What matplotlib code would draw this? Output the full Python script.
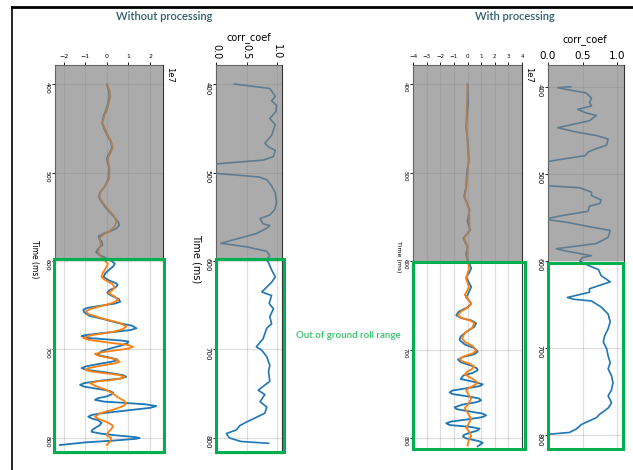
import numpy as np
import matplotlib
matplotlib.use("Agg")
import matplotlib.pyplot as plt
from matplotlib.patches import Rectangle
from matplotlib.lines import Line2D

# ---------------- data ----------------
# Trace without processing (amplitude in units of 1e7), time in ms
t_raw_blue = [400, 407, 414, 421, 428, 436, 444, 451, 458, 465, 472, 478, 484, 490, 495, 506, 511, 516, 522, 527,
              533, 540, 546, 552, 557, 560, 563, 566, 569, 572, 575, 578, 582, 586, 590, 593, 596, 600, 603, 606,
              610, 614, 618, 622, 625, 627, 630, 633, 636, 639, 643, 646, 648, 651, 653, 655, 658, 662, 666, 670,
              673, 676, 678, 680, 682, 684, 685, 687, 688, 690, 691, 693, 696, 699, 702, 706, 709, 711, 712, 714,
              716, 719, 721, 723, 726, 729, 731, 733, 735, 738, 740, 742, 745, 747, 749, 751, 753, 755, 757, 759,
              760, 762, 764, 766, 769, 772, 774, 776, 778, 780, 783, 786, 788, 791, 793, 795, 797, 799, 800, 801,
              803, 805, 808]
v_raw_blue = [0.00, 0.08, 0.12, 0.06, -0.02, -0.15, -0.22, -0.12, 0.02, 0.18, 0.24, 0.12, 0.00, 0.05, 0.10, 0.08, 0.00, -0.10, -0.30, -0.38,
              -0.25, -0.05, 0.18, 0.40, 0.55, 0.57, 0.45, 0.20, -0.15, -0.38, -0.35, -0.24, -0.20, -0.40, -0.50, -0.35, -0.10, 0.22, 0.37, 0.30,
              0.10, -0.08, -0.15, 0.10, 0.42, 0.50, 0.40, 0.12, 0.02, 0.20, 0.55, 0.62, 0.40, -0.40, -0.90, -1.09, -1.05, -0.80, -0.10, 0.50,
              1.15, 1.37, 1.10, 0.40, -0.40, -1.05, -1.17, -0.90, -0.30, 0.70, 1.00, 0.95, 0.60, 0.15, -0.25, -0.45, 0.10, 0.45, 0.50, 0.20,
              -0.30, -0.95, -1.17, -0.95, 0.00, 0.75, 0.90, 0.60, -0.20, -1.05, -1.24, -1.05, -0.30, 0.15, 0.30, 0.20, 0.00, -0.40, -0.55, -0.10,
              0.60, 1.80, 2.29, 2.00, 0.90, -0.20, -0.70, -0.86, -0.70, -0.40, -0.24, -0.35, -0.50, -0.68, -0.71, -0.30, 0.40, 1.30, 1.52, 1.35,
              0.30, -1.00, -2.17]
t_raw_orange = [400, 407, 414, 421, 428, 436, 444, 451, 458, 465, 472, 478, 484, 490, 495, 506, 511, 516, 522, 527,
                533, 540, 548, 556, 561, 566, 570, 574, 578, 582, 586, 590, 596, 603, 606, 610, 614, 618, 622, 626,
                630, 633, 636, 640, 644, 647, 650, 654, 657, 660, 665, 670, 674, 677, 680, 684, 687, 689, 692, 695,
                697, 699, 701, 703, 705, 707, 711, 714, 716, 718, 721, 723, 725, 727, 729, 731, 733, 735, 736, 738,
                741, 746, 750, 754, 758, 761, 764, 768, 772, 776, 779, 782, 785, 787, 790, 794, 797, 800, 804, 808]
v_raw_orange = [0.00, 0.12, 0.16, 0.10, 0.02, -0.12, -0.20, -0.08, 0.05, 0.20, 0.28, 0.16, 0.05, 0.08, 0.12, 0.12, 0.02, -0.10, -0.28, -0.35,
                -0.22, 0.00, 0.30, 0.45, 0.35, 0.15, -0.15, -0.35, -0.30, -0.28, -0.36, -0.40, -0.25, 0.05, 0.00, -0.10, -0.20, -0.25, -0.05, 0.25,
                0.37, 0.25, 0.08, 0.35, 0.52, 0.30, -0.10, -0.75, -0.97, -0.85, -0.20, 0.60, 0.90, 0.75, 0.30, -0.75, -1.09, -0.85, 0.00, 1.00,
                1.21, 1.00, 0.40, -0.20, -0.55, -0.40, 0.40, 0.60, 0.30, -0.20, -0.85, -1.00, -0.70, 0.00, 0.60, 0.83, 0.60, 0.10, -0.45, -0.78,
                -0.55, 0.00, 0.30, 0.50, 0.80, 0.90, 0.75, 0.30, -0.30, -0.55, -0.35, 0.00, 0.22, 0.29, 0.20, 0.05, 0.00, 0.20, 0.15, 0.00]

# corr_coef without processing
t_cc_raw = [400, 405, 408, 414, 419, 424, 431, 439, 446, 458, 467, 471, 475, 482, 486, 490, 496, 501, 505, 508,
            515, 523, 534, 542, 548, 552, 558, 560, 563, 569, 580, 584, 589, 594, 599, 602, 610, 618, 624, 635,
            639, 648, 654, 663, 671, 676, 688, 692, 697, 701, 708, 718, 725, 736, 746, 751, 759, 765, 772, 782,
            786, 791, 795, 800, 804, 806]
v_cc_raw = [0.30, 0.88, 0.91, 0.97, 0.91, 0.99, 0.98, 0.88, 0.97, 0.91, 0.80, 0.86, 0.97, 0.94, 0.77, 0.05, -0.40, 0.00, 0.70, 0.83,
            0.91, 0.97, 0.99, 0.96, 0.88, 0.72, 0.77, 0.88, 0.83, 0.66, 0.08, 0.50, 0.83, 0.88, 0.83, 0.86, 0.91, 0.97, 0.91, 0.75,
            0.91, 0.87, 0.94, 0.88, 0.91, 0.83, 0.77, 0.72, 0.66, 0.75, 0.83, 0.88, 0.86, 0.88, 0.69, 0.80, 0.72, 0.83, 0.80, 0.50,
            0.39, 0.33, 0.17, 0.22, 0.41, 0.86]

# Trace with processing (units of 1e7)
t_pr_blue = [400, 420, 448, 470, 486, 500, 516, 527, 542, 555, 565, 574, 584, 592, 599, 603, 608, 613, 618, 624,
             629, 635, 641, 645, 648, 652, 657, 661, 664, 667, 670, 674, 680, 685, 689, 694, 698, 702, 705, 708,
             711, 714, 718, 721, 723, 726, 729, 733, 736, 739, 741, 744, 746, 748, 750, 753, 755, 757, 759, 762,
             765, 767, 770, 772, 774, 776, 779, 781, 783, 785, 787, 789, 791, 794, 796, 798, 800, 803, 805, 809]
v_pr_blue = [0.00, 0.05, -0.10, 0.05, 0.10, -0.05, -0.10, -0.25, 0.15, 0.00, 0.20, -0.30, 0.00, -0.10, 0.00, 0.15, 0.27, 0.12, -0.10, 0.10,
             0.27, 0.10, -0.10, 0.15, 0.27, 0.00, -0.65, -0.83, -0.50, 0.30, 0.63, 0.50, -0.10, -0.50, -0.58, -0.20, 0.50, 0.75, 0.50, -0.30,
             -0.70, -0.50, 0.30, 0.70, 0.75, 0.40, -0.30, -0.50, 0.40, 1.12, 0.90, -0.30, -1.10, -1.31, -1.10, 0.20, 0.85, 1.00, 0.70, -0.40,
             -0.95, -0.80, 0.30, 1.10, 1.36, 1.10, -0.20, -1.20, -1.56, -1.30, 0.20, 0.88, 0.75, 0.10, -0.25, -0.34, -0.10, 0.80, 1.12, 0.75]
t_pr_orange = [400, 448, 486, 516, 527, 542, 565, 574, 584, 599, 604, 609, 614, 620, 625, 629, 634, 638, 643, 648,
               652, 657, 661, 664, 667, 670, 675, 681, 687, 691, 696, 701, 704, 707, 710, 713, 716, 719, 722, 725,
               728, 732, 737, 740, 743, 746, 750, 755, 760, 766, 772, 778, 783, 788, 792, 797, 802, 808]
v_pr_orange = [0.00, -0.08, 0.08, -0.08, -0.20, 0.12, 0.15, -0.25, 0.00, 0.00, 0.08, 0.10, 0.00, -0.10, 0.02, 0.10, -0.05, -0.20, 0.05, 0.27,
               0.05, -0.50, -0.70, -0.45, 0.20, 0.50, 0.35, -0.20, -0.40, -0.20, 0.40, 0.63, 0.40, -0.20, -0.58, -0.40, 0.20, 0.50, 0.30, -0.05,
               -0.20, 0.30, 0.75, 0.50, 0.10, -0.10, 0.05, 0.27, 0.10, -0.20, 0.05, 0.27, 0.10, -0.10, 0.10, 0.27, 0.10, 0.00]

# corr_coef with processing
t_cc_pr = [400, 401, 403, 407, 413, 418, 422, 426, 430, 433, 439, 447, 452, 456, 460, 467, 471, 475, 479, 485,
           490, 510, 514, 516, 521, 525, 530, 534, 537, 543, 548, 552, 556, 560, 565, 573, 580, 586, 588, 594,
           596, 600, 604, 610, 617, 624, 632, 636, 642, 644, 646, 653, 661, 670, 678, 686, 693, 701, 709, 717,
           724, 732, 740, 748, 755, 763, 769, 776, 780, 788, 793, 797, 799, 800]
v_cc_pr = [0.33, 0.14, 0.26, 0.55, 0.63, 0.60, 0.63, 0.43, 0.55, 0.70, 0.60, 0.14, 0.41, 0.70, 0.87, 0.85, 0.70, 0.58, 0.54, 0.06,
           -0.30, -0.30, 0.05, 0.46, 0.63, 0.63, 0.77, 0.75, 0.60, 0.58, 0.20, -0.05, 0.30, 0.55, 0.90, 0.87, 0.70, 0.12, 0.22, 0.63,
           0.50, 0.46, 0.55, 0.73, 0.77, 0.90, 0.60, 0.60, 0.28, 0.37, 0.63, 0.77, 0.87, 0.90, 0.87, 0.82, 0.80, 0.85, 0.87, 0.90,
           0.87, 0.92, 0.94, 0.92, 0.87, 0.92, 0.87, 0.75, 0.70, 0.48, 0.41, 0.31, 0.02, -0.02]

titles = ["Without processing", "With processing"]
cc_title = "corr_coef"
note = "Out of ground roll range"

# ---------------- figure ----------------
W, H = 633, 470
fig = plt.figure(figsize=(W / 100, H / 100), dpi=100)
fig.patch.set_facecolor("white")

def px_axes(l, r, t, b):
    return fig.add_axes([l / W, 1 - b / H, (r - l) / W, (b - t) / H])

BLUE = "#1f77b4"
ORANGE = "#ff7f0e"
GREEN = "#00b050"

def style(ax, ylim, xlim, xticks, xfs, xrot, yfs, xpad=1.5):
    ax.set_ylim(ylim)
    ax.set_xlim(xlim)
    ax.set_xticks(xticks)
    ax.xaxis.tick_top()
    ax.set_yticks([400, 500, 600, 700, 800])
    ax.tick_params(axis="x", labelsize=xfs, labelrotation=xrot, length=2.5, pad=xpad, width=0.6)
    ax.tick_params(axis="y", labelsize=yfs, labelrotation=-90, length=2.5, pad=1.5, width=0.6)
    ax.grid(True, color="k", alpha=0.13, lw=0.9)
    ax.set_axisbelow(True)
    for s in ax.spines.values():
        s.set_linewidth(0.8)
        s.set_color("#333333")
    ax.axhspan(ylim[1], 600, color="#808080", alpha=0.66, zorder=5, lw=0)

def ylab(ax, fs, pad):
    ax.set_ylabel("Time (ms)", fontsize=fs, rotation=-90, labelpad=pad)
    ax.yaxis.label.set_va("top")

# Panel 1: trace without processing
ax1 = px_axes(55, 163, 65, 453)
ax1.plot(v_raw_blue, t_raw_blue, color=BLUE, lw=1.3, zorder=3)
ax1.plot(v_raw_orange, t_raw_orange, color=ORANGE, lw=1.3, zorder=3)
style(ax1, (817, 378.5), (-2.4, 2.6), [-2, -1, 0, 1, 2], 4.5, 0, 4.5)
ylab(ax1, 5.5, 4)
ax1.text(1.02, 0.995, "1e7", transform=ax1.transAxes, rotation=-90, fontsize=6, ha="left", va="top")

# Panel 2: corr without processing
ax2 = px_axes(216, 282, 65, 453)
ax2.plot(v_cc_raw, t_cc_raw, color=BLUE, lw=1.2, zorder=3)
style(ax2, (817, 378.5), (0, 1.08), [0.0, 0.5, 1.0], 7, -90, 5)
ax2.set_xticklabels(["0.0", "0.5", "1.0"])
ylab(ax2, 7, 2)
ax2.set_title(cc_title, fontsize=7, pad=18)

# Panel 3: trace with processing
ax3 = px_axes(413, 522, 65, 449)
ax3.plot(v_pr_blue, t_pr_blue, color=BLUE, lw=1.3, zorder=3)
ax3.plot(v_pr_orange, t_pr_orange, color=ORANGE, lw=1.3, zorder=3)
style(ax3, (812, 378.5), (-4, 4), list(range(-4, 5)), 4, 0, 4)
ylab(ax3, 4.5, 1)
ax3.text(1.02, 0.995, "1e7", transform=ax3.transAxes, rotation=-90, fontsize=6, ha="left", va="top")

# Panel 4: corr with processing
ax4 = px_axes(548, 624, 65, 449)
ax4.plot(v_cc_pr, t_cc_pr, color=BLUE, lw=1.2, zorder=3)
style(ax4, (816, 375), (0, 1.1), [0.0, 0.5, 1.0], 7.5, 0, 5, xpad=0.3)
ax4.set_xticklabels(["0.0", "0.5", "1.0"])
fig.text(585 / W, 1 - 40 / H, cc_title, fontsize=7, ha="center", va="center")

# Green rectangles (figure pixel coordinates)
for (l, r, t, b) in [(54, 164, 259, 452), (216, 284, 259, 452), (413, 525, 262, 449), (548, 623, 263, 449)]:
    fig.patches.append(Rectangle((l / W, 1 - b / H), (r - l) / W, (b - t) / H, transform=fig.transFigure,
                                 fill=False, edgecolor=GREEN, lw=2.2, zorder=10))

# Titles and note
fig.text(164 / W, 1 - 17 / H, titles[0], fontsize=8, color="#2e5e6e", family=["Lato", "DejaVu Sans"],
         fontweight="semibold", ha="center", va="center")
fig.text(515 / W, 1 - 17 / H, titles[1], fontsize=8, color="#2e5e6e", family=["Lato", "DejaVu Sans"],
         fontweight="semibold", ha="center", va="center")
fig.text(348 / W, 1 - 336 / H, note, fontsize=7, color="#2fc266", family=["Lato", "DejaVu Sans"],
         fontweight="semibold", ha="center", va="center")

# Slide frame
fig.lines.append(Line2D([12 / W, 1], [1 - 7 / H, 1 - 7 / H], transform=fig.transFigure, color="black", lw=2))
fig.lines.append(Line2D([12 / W, 12 / W], [0, 1 - 7 / H], transform=fig.transFigure, color="black", lw=1.2))

fig.savefig("out.png", dpi=100)
